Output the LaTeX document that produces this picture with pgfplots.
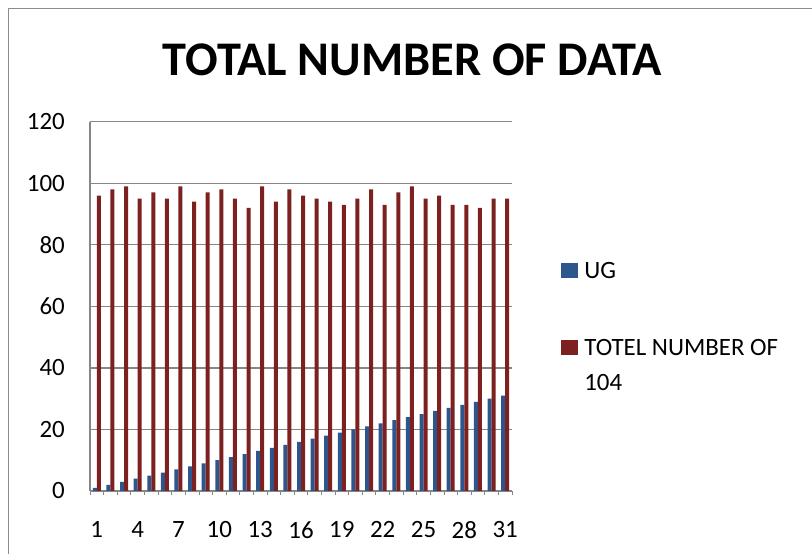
\documentclass[border=0pt]{standalone}
\usepackage{pgfplots}
\pgfplotsset{compat=1.18}
\usepackage{fontspec}
\setmainfont{Carlito}
\definecolor{bluedark}{RGB}{44,86,140}
\definecolor{bluelight}{RGB}{90,140,205}
\definecolor{reddark}{RGB}{125,32,32}
\definecolor{redlight}{RGB}{185,70,68}
\definecolor{gridgray}{RGB}{134,134,134}
\definecolor{framegray}{RGB}{140,140,140}
\begin{document}
\begin{tikzpicture}
\useasboundingbox (0,0) rectangle (812bp,554bp);
\draw[framegray, line width=1.6bp] (8.5bp,-5bp) -- (8.5bp,545.3bp) -- (820bp,545.3bp);
\node[font=\fontsize{48.5}{52}\selectfont\bfseries, inner sep=0pt] at (412.5bp,494bp) {TOTAL NUMBER OF DATA};
\begin{axis}[
  at={(90bp,63bp)}, anchor=south west,
  scale only axis, width=422bp, height=369.3bp,
  ybar=0pt, bar width=4bp,
  xmin=0.5, xmax=31.5, ymin=0, ymax=120,
  xtick={1,4,...,31}, ytick={0,20,...,120},
  minor xtick={0.5,1.5,...,31.5},
  tick align=outside,
  major tick length=0pt, minor tick length=4bp,
  minor tick style={gridgray, line width=0.8bp},
  ymajorgrids, grid style={gridgray, line width=1.3bp},
  separate axis lines,
  axis x line*=bottom, axis y line*=left,
  axis line style={gridgray, line width=1.3bp, -},
  /pgf/number format/assume math mode=true,
  ticklabel style={font=\fontsize{25}{30}\selectfont, inner sep=0pt},
  yticklabel style={anchor=east, xshift=-25bp},
  xticklabel style={anchor=north, yshift=-30bp},
  legend style={draw=none, fill=none, at={(1.116,0.62)}, anchor=north west,
    inner sep=0pt, row sep=61bp,
    nodes={font=\fontsize{25}{35}\selectfont, align=left, inner sep=0pt, text depth=0pt, anchor=west}},
  legend cell align=left,
]
\addplot[draw=none, shading=axis, left color=bluedark, middle color=bluelight, right color=bluedark,
  legend image code/.code={\fill[bluelight, draw=bluedark] (0bp,-7bp) rectangle (16bp,7bp); \path (23bp,0);}]
coordinates {(1,1)(2,2)(3,3)(4,4)(5,5)(6,6)(7,7)(8,8)(9,9)(10,10)(11,11)(12,12)(13,13)(14,14)(15,15)(16,16)(17,17)(18,18)(19,19)(20,20)(21,21)(22,22)(23,23)(24,24)(25,25)(26,26)(27,27)(28,28)(29,29)(30,30)(31,31)};
\addplot[draw=none, shading=axis, left color=reddark, middle color=redlight, right color=reddark,
  legend image code/.code={\fill[redlight, draw=reddark] (0bp,10.5bp) rectangle (16bp,24.5bp); \path (23bp,0);}]
coordinates {(1,96)(2,98)(3,99)(4,95)(5,97)(6,95)(7,99)(8,94)(9,97)(10,98)(11,95)(12,92)(13,99)(14,94)(15,98)(16,96)(17,95)(18,94)(19,93)(20,95)(21,98)(22,93)(23,97)(24,99)(25,95)(26,96)(27,93)(28,93)(29,92)(30,95)(31,95)};
\legend{UG, {TOTEL NUMBER OF\\104}}
\end{axis}
\end{tikzpicture}
\end{document}
